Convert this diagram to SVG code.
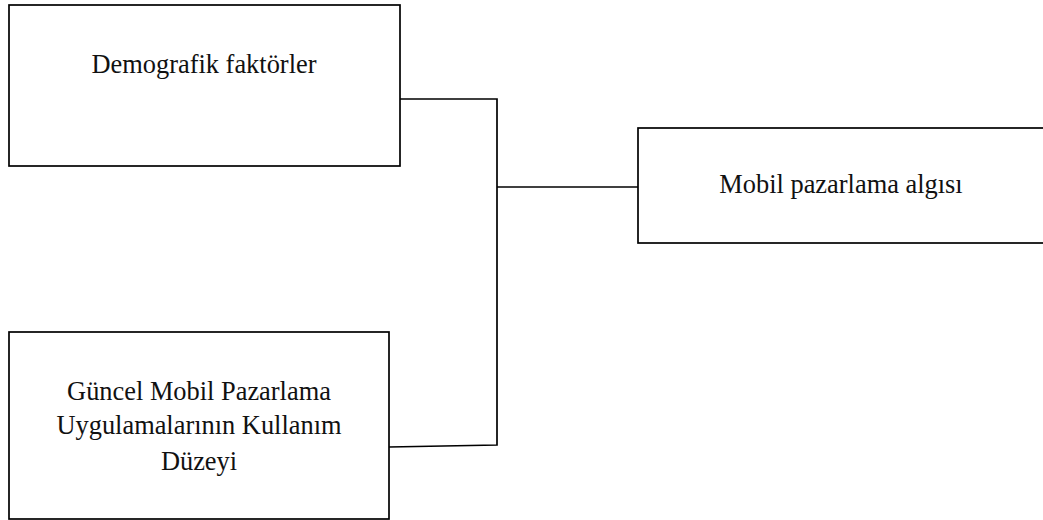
<svg xmlns="http://www.w3.org/2000/svg" width="1043" height="520" viewBox="0 0 1043 520">
<style>
.box{fill:#fff;stroke:#000;stroke-width:1.7}
.t{font-family:"Liberation Serif","Times New Roman",serif;font-size:26.4px;fill:#111;text-anchor:middle}
.c{fill:none;stroke:#000;stroke-width:1.7}
</style>
<rect width="1043" height="520" fill="#fff"/>
<g id="connectors">
<polyline class="c" points="400,99 497,99 497,445 389,447"/>
<line class="c" x1="497" y1="187" x2="638" y2="187"/>
</g>
<g id="node-demografik">
<rect class="box" x="9" y="5" width="391" height="161"/>
<text class="t" x="204" y="73">Demografik faktörler</text>
</g>
<g id="node-mobil-algi">
<rect class="box" x="638" y="128" width="420" height="115"/>
<text class="t" x="841" y="193">Mobil pazarlama algısı</text>
</g>
<g id="node-guncel">
<rect class="box" x="9" y="332" width="380" height="187"/>
<text class="t" x="199" y="400">Güncel Mobil Pazarlama</text>
<text class="t" x="199" y="434">Uygulamalarının Kullanım</text>
<text class="t" x="199" y="470">Düzeyi</text>
</g>
</svg>
